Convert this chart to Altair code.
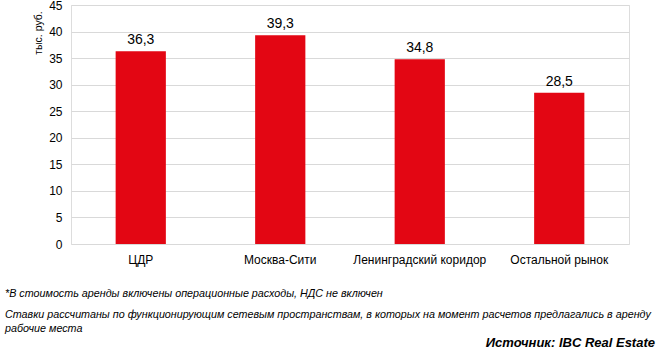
import altair as alt
import pandas as pd

categories = ["ЦДР", "Москва-Сити", "Ленинградский коридор", "Остальной рынок"]
values = [36.3, 39.3, 34.8, 28.5]
y_ticks = [0, 5, 10, 15, 20, 25, 30, 35, 40, 45]
y_title = "тыс. руб."
note1 = "*В стоимость аренды включены операционные расходы, НДС не включен"
note2a = "Ставки рассчитаны по функционирующим сетевым пространствам, в которых на момент расчетов предлагались в аренду"
note2b = "рабочие места"
source = "Источник: IBC Real Estate"

FONT = "Liberation Sans"
RED = "#E30613"

df = pd.DataFrame({"cat": categories, "v": values})

W, H = 558, 239

yenc = alt.Y("v:Q", scale=alt.Scale(domain=[0, 45]),
             axis=alt.Axis(title=None, values=y_ticks, ticks=False, domain=False,
                           gridColor="#d9d9d9", gridWidth=1, labelOverlap=False,
                           labelFont=FONT, labelFontSize=12, labelColor="#000000",
                           labelPadding=9))

base = alt.Chart(df).encode(
    x=alt.X("cat:N", sort=categories,
            scale=alt.Scale(paddingInner=0.64, paddingOuter=0.32),
            axis=alt.Axis(title=None, labelAngle=0, ticks=False, domain=False,
                          labelFont=FONT, labelFontSize=12, labelColor="#000000",
                          labelPadding=10)),
    y=yenc,
)

bars = base.mark_bar(color=RED)

labels = base.mark_text(font=FONT, fontSize=14, color="#000000", dy=-11).transform_calculate(
    lab="replace(format(datum.v, '.1f'), '.', ',')"
).encode(text="lab:N")

def txt(s, x, y, **kw):
    return alt.Chart(pd.DataFrame({"t": [s]})).mark_text(font=FONT, clip=False, **kw).encode(
        x=alt.value(x), y=alt.value(y), text="t:N")

ytitle = txt(y_title, -32, 28, angle=270, fontSize=10.5, color="#000000", baseline="middle")
n1 = txt(note1, -66, 289, align="left", fontSize=10.75, fontStyle="italic", color="#000000", baseline="middle")
n2 = txt(note2a, -66, 310, align="left", fontSize=10.75, fontStyle="italic", color="#000000", baseline="middle")
n3 = txt(note2b, -66, 324, align="left", fontSize=10.75, fontStyle="italic", color="#000000", baseline="middle")
src = txt(source, 584, 338, align="right", fontSize=13, fontStyle="italic", fontWeight="bold", color="#000000", baseline="middle")

chart = alt.layer(bars, labels, ytitle, n1, n2, n3, src).properties(
    width=W, height=H,
    autosize=alt.AutoSizeParams(type="none"),
    padding={"left": 71, "top": 5, "right": 30, "bottom": 108},
).configure_view(stroke=None).configure(background="white")

chart.save("out.html", embed_options={"renderer": "svg", "actions": False})
